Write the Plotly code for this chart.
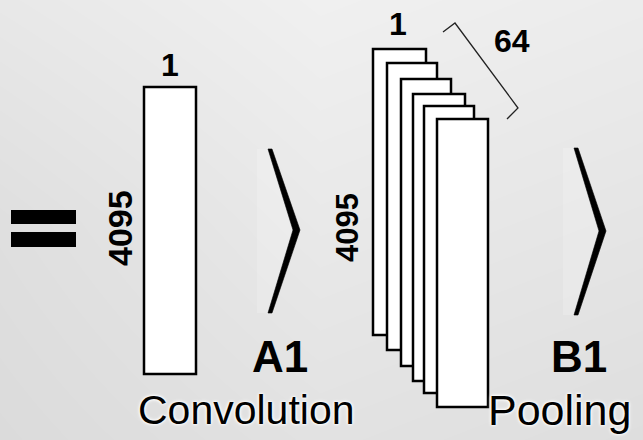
import plotly.graph_objects as go

# ---- diagram data (pixel coordinates of a 643x440 canvas, y down) ----
W, H = 643, 440

# background shade samples (grey level) on a 3x3 grid
bg_x = [0, 320, 643]
bg_y = [0, 220, 440]
bg_grey = [[232, 240, 236],
           [223, 233, 229],
           [219, 226, 222]]

# single input column: [x0, y0, x1, y1]
input_rect = [144, 87, 196, 374]

# stacked feature maps (back to front)
stack_x0 = [373, 387, 401, 413, 424, 437]
stack_y0 = [49, 63, 79, 94, 106, 119]
stack_x1 = [426, 437, 451, 465, 474, 488]
stack_y1 = [335, 350, 366, 381, 393, 407]

# chevrons
chevron_left = [268, 574]
chevron_end_w = [4, 4]
chevron_tip = [300, 606]
chevron_inner = [293, 599]
chevron_top = [149, 148]
chevron_bot = [313, 315]
chevron_mid = [230, 231]

# equals sign bars: [x0, y0, x1, y1]
eq_bars = [[11, 210, 76, 224], [11, 232, 76, 247]]

# bracket path
bracket_x = [443, 455, 518, 507]
bracket_y = [32, 23, 108, 119]

# labels
labels_text = ["4095", "1", "4095", "1", "64", "A1", "B1"]
labels_x = [120, 170, 347, 398, 512, 280, 579]
labels_y = [228, 65, 228, 24, 41, 356, 356]
labels_size = [34, 32, 31, 32, 32, 44, 44]
labels_angle = [-90, 0, -90, 0, 0, 0, 0]

captions_text = ["Convolution", "Pooling"]
captions_x = [136, 486]
captions_y = [410, 410]
captions_size = [41, 43]

fig = go.Figure()

# background gradient
fig.add_trace(go.Heatmap(
    x=bg_x, y=bg_y, z=bg_grey, zsmooth="best",
    colorscale=[[0, "rgb(210,210,210)"], [1, "rgb(245,245,245)"]],
    zmin=210, zmax=245, showscale=False, hoverinfo="skip"))

# faint highlight strips next to chevrons
for i in range(len(chevron_left)):
    l = chevron_left[i]
    fig.add_trace(go.Scatter(
        x=[l - 11, l, chevron_inner[i], l, l - 11, l - 11],
        y=[chevron_top[i], chevron_top[i], chevron_mid[i], chevron_bot[i], chevron_bot[i], chevron_top[i]],
        mode="lines", fill="toself", fillcolor="rgba(255,255,255,0.18)", line=dict(width=0),
        hoverinfo="skip", showlegend=False))

# chevrons
for i in range(len(chevron_left)):
    l, w = chevron_left[i], chevron_end_w[i]
    fig.add_trace(go.Scatter(
        x=[l, l + w, chevron_tip[i], l + w, l, chevron_inner[i], l],
        y=[chevron_top[i], chevron_top[i], chevron_mid[i], chevron_bot[i], chevron_bot[i],
           chevron_mid[i], chevron_top[i]],
        mode="lines", fill="toself", fillcolor="black", line=dict(width=0.6, color="black"),
        hoverinfo="skip", showlegend=False))

# bracket
fig.add_trace(go.Scatter(x=bracket_x, y=bracket_y, mode="lines",
                         line=dict(color="#222222", width=1.3),
                         hoverinfo="skip", showlegend=False))

shapes = []
for b in eq_bars:
    shapes.append(dict(type="rect", x0=b[0], y0=b[1], x1=b[2], y1=b[3],
                       fillcolor="black", line=dict(width=0)))
shapes.append(dict(type="rect", x0=input_rect[0], y0=input_rect[1],
                   x1=input_rect[2], y1=input_rect[3],
                   fillcolor="white", line=dict(color="black", width=2.5)))
for i in range(len(stack_x0)):
    shapes.append(dict(type="rect", x0=stack_x0[i], y0=stack_y0[i],
                       x1=stack_x1[i], y1=stack_y1[i],
                       fillcolor="white", line=dict(color="black", width=2.5)))

annotations = []
for t, x, y, s, a in zip(labels_text, labels_x, labels_y, labels_size, labels_angle):
    annotations.append(dict(text=t, x=x, y=y, xref="x", yref="y", showarrow=False,
                            textangle=a, xanchor="center", yanchor="middle",
                            font=dict(family="Liberation Sans, Arial",
                                      size=s, color="black", weight="bold")))
for t, x, y, s in zip(captions_text, captions_x, captions_y, captions_size):
    annotations.append(dict(text=t, x=x, y=y, xref="x", yref="y", showarrow=False,
                            xanchor="left", yanchor="middle",
                            font=dict(family="Liberation Sans, Arial", size=s, color="black",
                                      shadow="0 0 4px white, 0 0 3px white, 0 0 2px white")))

fig.update_layout(
    width=W, height=H, margin=dict(l=0, r=0, t=0, b=0),
    paper_bgcolor="#e6e6e6", plot_bgcolor="#e6e6e6",
    shapes=shapes, annotations=annotations,
    xaxis=dict(range=[0, W], visible=False, fixedrange=True),
    yaxis=dict(range=[H, 0], visible=False, fixedrange=True),
    showlegend=False,
)

fig.write_html("out.html", config={"displayModeBar": False},
               post_script="document.body.style.margin='0';document.body.style.overflow='hidden';")
